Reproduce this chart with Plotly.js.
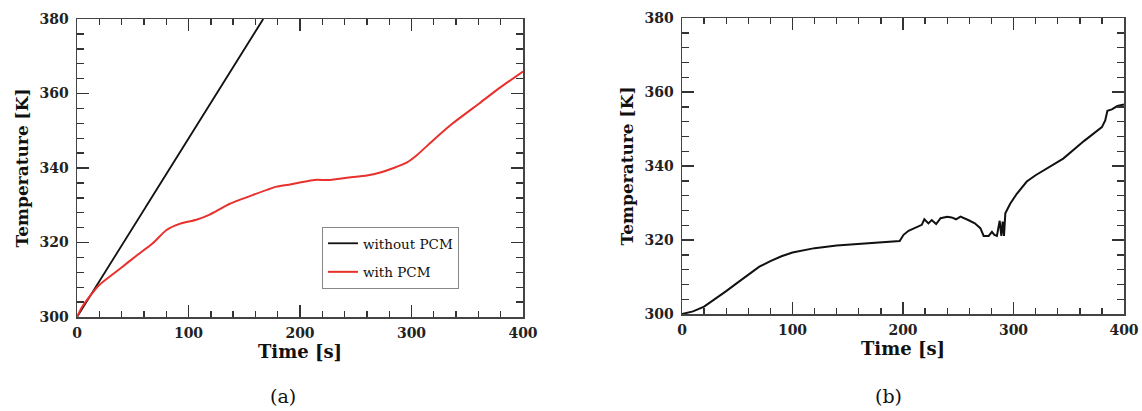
<!DOCTYPE html>
<html>
<head>
<meta charset="utf-8">
<script src="https://cdn.plot.ly/plotly-3.0.1.min.js"></script>
<style>
  html, body { margin: 0; padding: 0; background: #fff; }
  #chart { width: 1142px; height: 411px; }
</style>
</head>
<body>
<div id="chart"></div>
<script>
// Panel (a)
const timeNoPCM = [0, 167];
const tempNoPCM = [300, 380];

const timePCM = [0, 4, 10, 20, 30, 40, 53, 68, 80, 92, 107, 119, 137, 158, 179, 191, 200, 213, 227, 242, 260, 272, 284, 296, 305, 320, 337, 361, 379, 400];
const tempPCM = [300, 302.4, 305.0, 308.6, 311.0, 313.3, 316.4, 319.8, 323.3, 325, 326.1, 327.5, 330.4, 332.8, 335, 335.6, 336.1, 336.8, 336.8, 337.4, 338, 338.8, 340, 341.5, 343.5, 347.6, 352, 357.4, 361.5, 365.9];

// Panel (b)
const timeB = [0, 10, 20, 30, 40, 50, 60, 70, 80, 90, 100, 110, 120, 140, 160, 180, 197, 200.5, 205, 217, 219.3, 223, 226, 230, 234, 240, 244, 248, 252, 259, 265, 270, 273, 277.5, 280.5, 282.7, 285, 287.5, 289, 290.2, 291.4, 292.6, 297, 303, 312, 320, 333, 345, 364, 380, 383, 385, 389, 394, 400];
const tempB = [300, 300.7, 302, 304, 306.2, 308.4, 310.7, 312.8, 314.3, 315.6, 316.6, 317.3, 317.8, 318.5, 318.9, 319.3, 319.7, 321.4, 322.5, 324.1, 325.6, 324.5, 325.4, 324.3, 325.9, 326.3, 326.1, 325.6, 326.3, 325.4, 324.5, 323.2, 321.1, 321.1, 322.2, 321.4, 321.1, 325.2, 321.1, 325, 321.1, 327.2, 329.8, 332.5, 335.8, 337.5, 339.8, 342, 346.8, 350.5, 352.3, 354.9, 355.3, 356.2, 356.6];

const xTicks = [0, 100, 200, 300, 400];
const yTicks = [300, 320, 340, 360, 380];
const captions = ["(a)", "(b)"];
const seriesNames = ["without PCM", "with PCM"];

const serif = "DejaVu Serif";
const tickFont = {family: serif, size: 14, weight: 700, color: "#222"};
const titleFontX = {family: serif, size: 18, weight: 700, color: "#111"};
const titleFontY = {family: serif, size: 17, weight: 700, color: "#111"};

function xAxis(domain, anchor) {
  return {
    domain: domain, anchor: anchor, range: [0, 400],
    tickvals: xTicks, ticktext: xTicks.map(String),
    ticks: "inside", ticklen: 12, tickwidth: 1.6, tickcolor: "#333",
    minor: {dtick: 20, tick0: 0, ticks: "inside", ticklen: 6, tickwidth: 1.4, tickcolor: "#333"},
    showline: true, linecolor: "#444", linewidth: 1.5, mirror: "ticks",
    showgrid: false, zeroline: false,
    tickfont: tickFont, ticklabelstandoff: 3,
    title: {text: "Time [s]", font: titleFontX, standoff: 2}
  };
}
function yAxis(domain, anchor) {
  return {
    domain: domain, anchor: anchor, range: [300, 380],
    tickvals: yTicks, ticktext: yTicks.map(String),
    ticks: "inside", ticklen: 12, tickwidth: 1.6, tickcolor: "#333",
    minor: {dtick: 4, tick0: 300, ticks: "inside", ticklen: 7, tickwidth: 1.4, tickcolor: "#333"},
    showline: true, linecolor: "#444", linewidth: 1.5, mirror: "ticks",
    showgrid: false, zeroline: false,
    tickfont: tickFont, ticklabelstandoff: 4,
    title: {text: "Temperature [K]", font: titleFontY, standoff: 6}
  };
}

const traces = [
  {x: timeNoPCM, y: tempNoPCM, xaxis: "x", yaxis: "y", mode: "lines", name: seriesNames[0],
   legendgroup: "g1", line: {color: "#111", width: 1.8}},
  {x: timePCM, y: tempPCM, xaxis: "x", yaxis: "y", mode: "lines", name: seriesNames[1],
   legendgroup: "g2", line: {color: "#e8302c", width: 2, shape: "spline", smoothing: 0.5}},
  {x: timeB, y: tempB, xaxis: "x2", yaxis: "y2", mode: "lines", showlegend: false,
   line: {color: "#111", width: 2}}
];

const L = 77, R = 18, T = 18, B = 94;
const W = 1142 - L - R, H = 411 - T - B;
const px = v => (v - L) / W;
const py = v => (411 - B - v) / H;

const layout = {
  width: 1142, height: 411,
  margin: {l: L, r: R, t: T, b: B},
  paper_bgcolor: "#fff", plot_bgcolor: "#fff",
  showlegend: true,
  xaxis: xAxis([0, px(523)], "y"),
  yaxis: yAxis([py(317), py(19)], "x"),
  xaxis2: xAxis([px(682), 1], "y2"),
  yaxis2: yAxis([py(314), py(18)], "x2"),
  legend: {
    x: px(322), y: py(227), xanchor: "left", yanchor: "top",
    bgcolor: "#fff", bordercolor: "#888", borderwidth: 1,
    font: {family: serif, size: 13.5, color: "#111"},
    traceorder: "grouped", tracegroupgap: 8, itemwidth: 30
  },
  annotations: [
    {text: captions[0], xref: "paper", yref: "paper", x: px(283), y: py(396), showarrow: false,
     font: {family: serif, size: 19, color: "#111"}, xanchor: "center", yanchor: "middle"},
    {text: captions[1], xref: "paper", yref: "paper", x: px(888), y: py(396), showarrow: false,
     font: {family: serif, size: 19, color: "#111"}, xanchor: "center", yanchor: "middle"}
  ]
};

Plotly.newPlot("chart", traces, layout, {displayModeBar: false, staticPlot: true});
</script>
</body>
</html>
